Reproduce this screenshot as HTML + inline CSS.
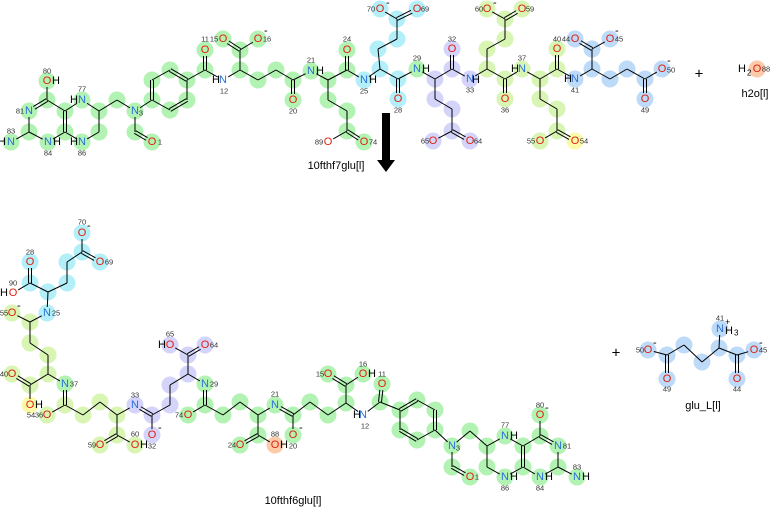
<!DOCTYPE html>
<html><head><meta charset="utf-8"><style>
body{margin:0;background:#fff}
svg{display:block}
text{font-family:"Liberation Sans","DejaVu Sans",sans-serif;dominant-baseline:central}
.N{fill:#2a6fd8;font-size:11px;text-anchor:middle}
.O{fill:#e0200e;font-size:11px;text-anchor:middle}
.H{fill:#000;font-size:11px}
.s{fill:#333;font-size:7.5px;text-anchor:middle}
.L{fill:#000;font-size:11px;text-anchor:middle}
</style></head><body>
<svg id="sv" width="770" height="507" viewBox="0 0 770 507" xmlns="http://www.w3.org/2000/svg">
<g id="circ"></g><g id="bond" stroke="#000" stroke-width="1" fill="none"></g>
<g id="txt">
<text class="O" x="47" y="81">O</text><text class="H" x="52" y="81">H</text><text class="s" x="47" y="71">80</text>
<text class="N" x="29" y="111">N</text><text class="s" x="20" y="111">81</text>
<text class="N" x="11" y="142">N</text><text class="H" x="-2" y="142">H</text><text class="s" x="11" y="131">83</text>
<text class="N" x="48" y="142">N</text><text class="H" x="53" y="142">H</text><text class="s" x="48" y="153">84</text>
<text class="N" x="82" y="100">N</text><text class="H" x="70" y="100">H</text><text class="s" x="82" y="89">77</text>
<text class="N" x="82" y="142">N</text><text class="H" x="70" y="142">H</text><text class="s" x="82" y="153">86</text>
<text class="N" x="135" y="111">N</text><text class="s" x="141" y="113">3</text>
<text class="O" x="152" y="142">O</text><text class="s" x="160" y="142">1</text>
<text class="O" x="205" y="50">O</text><text class="s" x="205" y="39">11</text>
<text class="N" x="223" y="80">N</text><text class="H" x="212" y="80">H</text><text class="s" x="224" y="91">12</text>
<text class="O" x="223" y="39">O</text><text class="s" x="214" y="39">15</text>
<text class="O" x="258" y="39">O</text><text class="s" x="267" y="39">16</text><text class="H" x="264" y="31">-</text>
<text class="O" x="293" y="100">O</text><text class="s" x="293" y="111">20</text>
<text class="N" x="311" y="71">N</text><text class="H" x="316" y="71">H</text><text class="s" x="311" y="60">21</text>
<text class="O" x="347" y="50">O</text><text class="s" x="347" y="39">24</text>
<text class="N" x="364" y="80">N</text><text class="H" x="369" y="80">H</text><text class="s" x="364" y="91">25</text>
<text class="O" x="328" y="142">O</text><text class="s" x="319" y="142">89</text>
<text class="O" x="364" y="142">O</text><text class="s" x="373" y="142">74</text>
<text class="O" x="380" y="9">O</text><text class="s" x="371" y="9">70</text><text class="H" x="386" y="3">-</text>
<text class="O" x="417" y="9">O</text><text class="s" x="425" y="9">69</text>
<text class="O" x="398" y="99">O</text><text class="s" x="398" y="110">28</text>
<text class="N" x="417" y="69">N</text><text class="H" x="422" y="69">H</text><text class="s" x="417" y="58">29</text>
<text class="O" x="452" y="49">O</text><text class="s" x="452" y="39">32</text>
<text class="N" x="470" y="79">N</text><text class="H" x="472" y="80">H</text><text class="s" x="470" y="90">33</text>
<text class="O" x="433" y="141">O</text><text class="s" x="425" y="141">65</text>
<text class="O" x="470" y="141">O</text><text class="s" x="478" y="141">64</text>
<text class="O" x="487" y="9">O</text><text class="s" x="479" y="9">60</text><text class="H" x="493" y="3">-</text>
<text class="O" x="522" y="9">O</text><text class="s" x="530" y="9">59</text>
<text class="O" x="505" y="99">O</text><text class="s" x="505" y="110">36</text>
<text class="N" x="522" y="69">N</text><text class="H" x="511" y="69">H</text><text class="s" x="522" y="58">37</text>
<text class="O" x="557" y="49">O</text><text class="s" x="557" y="39">40</text>
<text class="O" x="540" y="141">O</text><text class="s" x="531" y="141">55</text>
<text class="O" x="575" y="141">O</text><text class="s" x="584" y="141">54</text>
<text class="N" x="575" y="79">N</text><text class="H" x="564" y="79">H</text><text class="s" x="575" y="90">41</text>
<text class="O" x="575" y="39">O</text><text class="s" x="566" y="39">44</text>
<text class="O" x="610" y="39">O</text><text class="s" x="619" y="39">45</text><text class="H" x="615" y="31">-</text>
<text class="O" x="645" y="99">O</text><text class="s" x="645" y="110">49</text>
<text class="O" x="662" y="69">O</text><text class="s" x="671" y="70">50</text><text class="H" x="667" y="61">-</text>
<text class="L" x="699" y="74" style="font-size:15px">+</text>
<text class="H" x="738" y="69">H</text><text class="H" x="747" y="73" style="font-size:8px">2</text><text class="O" x="757" y="69">O</text><text class="s" x="766" y="69">88</text>
<text class="L" x="755" y="94">h2o[l]</text>
<text class="L" x="336" y="166">10fthf7glu[l]</text>
<text class="O" x="82" y="233">O</text><text class="s" x="82" y="222">70</text><text class="H" x="87" y="226">-</text>
<text class="O" x="100" y="262">O</text><text class="s" x="109" y="262">69</text>
<text class="O" x="30" y="262">O</text><text class="s" x="30" y="252">28</text>
<text class="O" x="13" y="293">O</text><text class="H" x="0" y="293">H</text><text class="s" x="13" y="283">90</text>
<text class="N" x="47" y="313">N</text><text class="s" x="56" y="313">25</text>
<text class="O" x="12" y="313">O</text><text class="s" x="4" y="313">55</text><text class="H" x="17" y="306">-</text>
<text class="O" x="12" y="374">O</text><text class="s" x="4" y="374">40</text>
<text class="O" x="30" y="405">O</text><text class="H" x="35" y="405">H</text><text class="s" x="31" y="415">54</text>
<text class="N" x="65" y="384">N</text><text class="s" x="74" y="384">37</text>
<text class="O" x="47" y="415">O</text><text class="s" x="39" y="415">36</text>
<text class="O" x="100" y="445">O</text><text class="s" x="92" y="445">59</text>
<text class="O" x="135" y="445">O</text><text class="H" x="140" y="445">H</text><text class="s" x="135" y="434">60</text>
<text class="N" x="135" y="405">N</text><text class="s" x="135" y="395">33</text>
<text class="O" x="152" y="435">O</text><text class="s" x="152" y="446">32</text><text class="H" x="158" y="428">-</text>
<text class="O" x="170" y="345">O</text><text class="H" x="158" y="345">H</text><text class="s" x="170" y="334">65</text>
<text class="O" x="205" y="345">O</text><text class="s" x="214" y="345">64</text>
<text class="N" x="205" y="384">N</text><text class="s" x="214" y="384">29</text>
<text class="O" x="188" y="415">O</text><text class="s" x="179" y="415">74</text>
<text class="O" x="240" y="445">O</text><text class="s" x="232" y="445">24</text>
<text class="O" x="275" y="445">O</text><text class="H" x="280" y="445">H</text><text class="s" x="275" y="434">88</text>
<text class="N" x="275" y="405">N</text><text class="s" x="275" y="394">21</text>
<text class="O" x="293" y="435">O</text><text class="s" x="293" y="446">20</text><text class="H" x="299" y="428">-</text>
<text class="O" x="328" y="374">O</text><text class="s" x="320" y="374">15</text>
<text class="O" x="363" y="374">O</text><text class="H" x="368" y="374">H</text><text class="s" x="363" y="364">16</text>
<text class="N" x="363" y="415">N</text><text class="H" x="353" y="415">H</text><text class="s" x="365" y="426">12</text>
<text class="O" x="382" y="384">O</text><text class="s" x="382" y="374">11</text>
<text class="N" x="452" y="446">N</text><text class="s" x="458" y="448">3</text>
<text class="O" x="470" y="477">O</text><text class="s" x="477" y="477">1</text>
<text class="N" x="505" y="477">N</text><text class="H" x="510" y="477">H</text><text class="s" x="505" y="488">86</text>
<text class="N" x="505" y="436">N</text><text class="H" x="510" y="436">H</text><text class="s" x="505" y="425">77</text>
<text class="O" x="540" y="415">O</text><text class="s" x="540" y="405">80</text><text class="H" x="545" y="408">-</text>
<text class="N" x="558" y="446">N</text><text class="s" x="567" y="446">81</text>
<text class="N" x="577" y="477">N</text><text class="H" x="582" y="477">H</text><text class="s" x="577" y="467">83</text>
<text class="N" x="540" y="477">N</text><text class="H" x="545" y="477">H</text><text class="s" x="540" y="488">84</text>
<text class="L" x="293" y="501">10fthf6glu[l]</text>
<text class="L" x="616" y="353" style="font-size:15px">+</text>
<text class="O" x="648" y="350">O</text><text class="s" x="640" y="350">50</text><text class="H" x="653" y="343">-</text>
<text class="O" x="667" y="379">O</text><text class="s" x="667" y="389">49</text>
<text class="N" x="720" y="329">N</text><text class="H" x="725" y="331">H</text><text class="H" x="734" y="333" style="font-size:8px">3</text><text class="H" x="725" y="322" style="font-size:9px">+</text><text class="s" x="720" y="318">41</text>
<text class="O" x="737" y="379">O</text><text class="s" x="737" y="389">44</text>
<text class="O" x="754" y="350">O</text><text class="s" x="763" y="350">45</text><text class="H" x="759" y="343">-</text>
<text class="L" x="703" y="406">glu_L[l]</text>
</g>
<polygon points="382,113 390,113 390,160 395,160 386,172 377,160 382,160" fill="#000"/>
</svg>
<script>
var C={g:"#b2f2b2",c:"#b2eff8",p:"#d4d4fa",y:"#d8f5b4",b:"#bddaf8",Y:"#fafaa8",o:"#fbcaa8",n:null};
var T={80:[47,81,'g'],79:[47,100,'g'],81:[29,111,'g'],78:[65,111,'g'],82:[29,132,'g'],85:[65,132,'g'],83:[11,142,'g'],84:[48,142,'g'],77:[82,100,'g'],86:[82,142,'g'],76:[99,111,'g'],87:[99,132,'g'],75:[117,100,'g'],3:[135,111,'g'],2:[135,132,'g'],1:[152,142,'g'],4:[152,100,'g'],5:[152,80,'g'],6:[170,70,'g'],7:[187,80,'g'],8:[187,100,'g'],9:[170,110,'g'],10:[205,70,'g'],11:[205,50,'g'],12:[223,80,'n'],13:[240,70,'g'],14:[240,50,'g'],15:[223,39,'g'],16:[258,39,'g'],17:[258,80,'g'],18:[276,70,'g'],19:[293,80,'g'],20:[293,100,'g'],21:[311,71,'g'],22:[328,80,'g'],23:[347,70,'g'],24:[347,50,'g'],25:[364,80,'c'],71:[328,100,'g'],72:[347,111,'g'],73:[347,131,'g'],89:[328,142,'n'],74:[364,142,'g'],26:[380,69,'c'],66:[378,49,'c'],67:[397,39,'c'],68:[397,19,'c'],70:[380,9,'c'],69:[417,9,'c'],27:[398,79,'c'],28:[398,99,'c'],29:[417,69,'g'],30:[435,79,'p'],31:[452,69,'p'],32:[452,49,'p'],33:[470,79,'p'],61:[435,99,'p'],62:[452,109,'p'],63:[452,131,'p'],65:[433,141,'p'],64:[470,141,'p'],34:[487,69,'y'],56:[487,49,'y'],57:[505,39,'y'],58:[505,19,'y'],60:[487,9,'y'],59:[522,9,'y'],35:[505,79,'y'],36:[505,99,'y'],37:[522,69,'y'],38:[540,79,'y'],39:[557,69,'y'],40:[557,49,'y'],51:[540,99,'y'],52:[557,109,'y'],53:[557,131,'y'],55:[540,141,'y'],54:[575,141,'Y'],41:[575,79,'b'],42:[592,69,'b'],43:[592,49,'b'],44:[575,39,'b'],45:[610,39,'b'],46:[610,79,'b'],47:[627,69,'b'],48:[645,79,'b'],49:[645,99,'b'],50:[662,69,'b'],88:[757,69,'o']};
var TB="80-79 79=81 79-78 81-82 82-83 82-84 84-85 85=78 78-77 85-86 77-76 86-87 76-87 76-75 75-3 3-2 2=1 3-4 4=5 5-6 6=7 7-8 8=9 9-4 7-10 10=11 10-12 12-13 13-14 14=15 14-16 13-17 17-18 18-19 19=20 19-21 21-22 22-23 23=24 23-25 22-71 71-72 72-73 73-89 73=74 25-26 26-66 66-67 67-68 68-70 68=69 26-27 27=28 27-29 29-30 30-31 31=32 31-33 30-61 61-62 62-63 63-65 63=64 33-34 34-56 56-57 57-58 58-60 58=59 34-35 35=36 35-37 37-38 38-39 39=40 39-41 38-51 51-52 52-53 53-55 53=54 41-42 42-43 43=44 43-45 42-46 46-47 47-48 48=49 48-50";
var B={70:[82,233,'c'],68:[82,252,'c'],69:[100,262,'c'],67:[67,262,'c'],66:[67,283,'c'],28:[30,262,'c'],27:[30,283,'c'],90:[13,293,'n'],26:[48,292,'c'],25:[47,313,'c'],55:[12,313,'y'],53:[30,322,'y'],52:[30,343,'y'],51:[48,355,'y'],38:[48,374,'y'],39:[30,385,'y'],40:[12,374,'y'],54:[30,405,'Y'],37:[65,384,'g'],35:[65,405,'y'],36:[47,415,'y'],34:[83,415,'y'],56:[100,402,'y'],57:[117,415,'y'],58:[117,435,'y'],59:[100,445,'y'],60:[135,445,'y'],33:[135,405,'p'],31:[152,415,'p'],32:[152,435,'p'],30:[170,405,'p'],61:[170,385,'p'],62:[188,374,'p'],63:[188,355,'p'],65:[170,345,'p'],64:[205,345,'p'],29:[205,384,'g'],73:[205,405,'g'],74:[188,415,'g'],72:[223,415,'g'],71:[240,402,'g'],22:[258,415,'g'],23:[258,435,'g'],24:[240,445,'g'],88:[275,445,'o'],21:[275,405,'g'],19:[293,415,'g'],20:[293,435,'g'],18:[310,402,'g'],17:[328,415,'g'],13:[346,403,'g'],14:[346,385,'g'],15:[328,374,'g'],16:[363,374,'g'],12:[363,415,'n'],10:[380,402,'g'],11:[382,384,'g'],7:[400,410,'g'],6:[417,400,'g'],5:[435,410,'g'],4:[435,430,'g'],9:[417,440,'g'],8:[400,430,'g'],3:[452,446,'g'],2:[452,467,'g'],1:[470,477,'g'],75:[470,431,'g'],76:[487,446,'g'],87:[487,467,'g'],86:[505,477,'g'],77:[505,436,'g'],78:[523,446,'g'],85:[523,467,'g'],79:[540,436,'g'],80:[540,415,'g'],81:[558,446,'g'],82:[558,467,'g'],83:[577,477,'g'],84:[540,477,'g']};
var BB="70-68 68=69 68-67 67-66 66-26 26-27 27=28 27-90 26-25 25-53 53-55 53-52 52-51 51-38 38-39 39=40 39-54 38-37 37=35 35-36 35-34 34-56 56-57 57-58 58=59 58-60 57-33 33=31 31-32 31-30 30-61 61-62 62-63 63-65 63=64 62-29 29=73 73-74 73-72 72-71 71-22 22-23 23=24 23-88 22-21 21=19 19-20 19-18 18-17 17-13 13-14 14=15 14-16 13-12 12-10 10=11 10-7 7=6 6-5 5=4 4-9 9=8 8-7 4-3 3-2 2=1 3-75 75-76 76-87 87-86 86-85 76-77 77-78 78=85 78-79 79-80 79=81 81-82 82-83 82-84 84-85";
var G={50:[648,350,'b'],48:[667,355,'b'],49:[667,379,'b'],47:[684,345,'b'],46:[702,362,'b'],42:[719,348,'b'],41:[720,329,'b'],43:[737,355,'b'],44:[737,379,'b'],45:[754,350,'b']};
var GB="50-48 48=49 48-47 47-46 46-42 42-41 42-43 43=44 43-45";
var ns="http://www.w3.org/2000/svg",gc=document.getElementById('circ'),gb=document.getElementById('bond');
var hetero={};
"80 81 83 84 77 86 3 1 11 12 15 16 20 21 24 25 89 74 70 69 28 29 32 33 65 64 60 59 36 37 40 55 54 41 44 45 49 50 88 90".split(' ').forEach(function(k){hetero[k]=1});
function ln(x1,y1,x2,y2){var l=document.createElementNS(ns,'line');l.setAttribute('x1',x1);l.setAttribute('y1',y1);l.setAttribute('x2',x2);l.setAttribute('y2',y2);gb.appendChild(l);}
function draw(A,bs){
 for(var k in A){var a=A[k];if(C[a[2]]){var c=document.createElementNS(ns,'circle');c.setAttribute('cx',a[0]);c.setAttribute('cy',a[1]);c.setAttribute('r',8.5);c.setAttribute('fill',C[a[2]]);gc.appendChild(c);}}
 bs.split(' ').forEach(function(p){var dbl=p.indexOf('=')>0,q=p.split(/[-=]/),a=A[q[0]],b=A[q[1]];if(!a||!b)return;
  var x1=a[0],y1=a[1],x2=b[0],y2=b[1],dx=x2-x1,dy=y2-y1,L=Math.sqrt(dx*dx+dy*dy);
  var s1=hetero[q[0]]?6:0,s2=hetero[q[1]]?6:0;
  var ax=x1+dx*s1/L,ay=y1+dy*s1/L,bx=x2-dx*s2/L,by=y2-dy*s2/L;
  if(dbl){var nx=-dy/L*1.5,ny=dx/L*1.5;ln(ax+nx,ay+ny,bx+nx,by+ny);ln(ax-nx,ay-ny,bx-nx,by-ny);}else ln(ax,ay,bx,by);});
}
draw(T,TB);draw(B,BB);draw(G,GB);
</script>
</body></html>
